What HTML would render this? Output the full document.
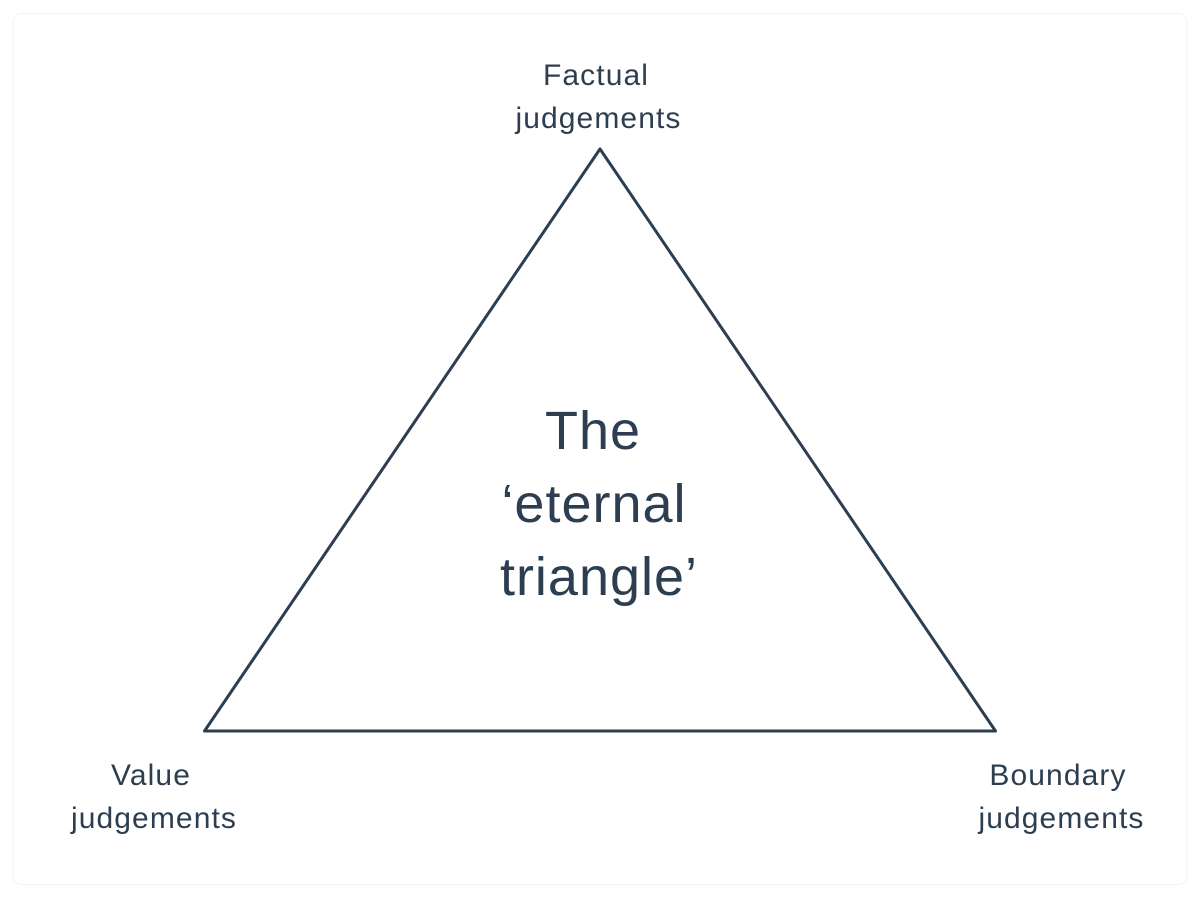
<!DOCTYPE html>
<html>
<head>
<meta charset="utf-8">
<style>
  html, body { margin:0; padding:0; background:#ffffff; }
  body { width:1200px; height:898px; position:relative; overflow:hidden; }
  .card {
    position:absolute; left:13px; top:13px; width:1172px; height:870px;
    border:1px solid #f3f4f5; border-radius:8px; background:#fff;
    box-shadow:0 1px 3px rgba(0,0,0,0.02);
  }
  svg { position:absolute; left:0; top:0; }
  text { font-family:"Liberation Sans", "DejaVu Sans", sans-serif; fill:#2c3e50; }
</style>
</head>
<body>
<div class="card"></div>
<svg width="1200" height="898" viewBox="0 0 1200 898" xmlns="http://www.w3.org/2000/svg">
  <polygon points="600,149 204.5,731 995.5,731" fill="none" stroke="#2c3e50" stroke-width="3" stroke-linejoin="round"/>

  <g font-size="30" letter-spacing="1.1" text-anchor="middle">
    <text x="596" y="85">Factual</text>
    <text x="598.5" y="128">judgements</text>

    <text x="151" y="785">Value</text>
    <text x="154" y="828">judgements</text>

    <text x="1058" y="785">Boundary</text>
    <text x="1061.5" y="828">judgements</text>
  </g>

  <g font-size="54" letter-spacing="1" text-anchor="middle">
    <text x="593" y="449">The</text>
    <text x="594" y="522">‘eternal</text>
    <text x="599" y="595">triangle’</text>
  </g>
</svg>
</body>
</html>
